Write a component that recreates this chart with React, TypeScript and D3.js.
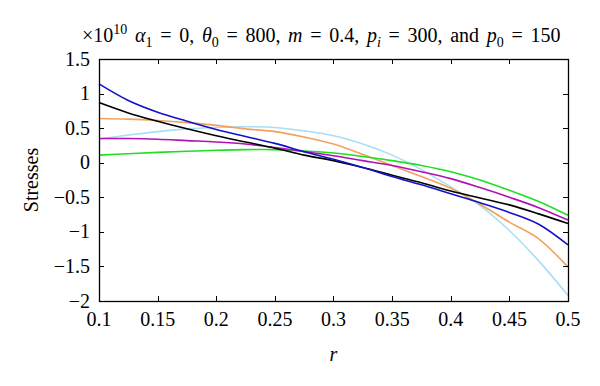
import React, { useRef, useEffect } from "react";
import * as d3 from "d3";

// radius values sampled along the x axis
const radius = [0.1, 0.125, 0.15, 0.175, 0.2, 0.225, 0.25, 0.275, 0.3, 0.325, 0.35, 0.375, 0.4, 0.425, 0.45, 0.475, 0.5];

// stresses (x 10^10)
const blueStress = [1.14, 0.9, 0.73, 0.6, 0.48, 0.38, 0.28, 0.16, 0.05, -0.07, -0.2, -0.32, -0.45, -0.58, -0.72, -0.89, -1.19];
const blackStress = [0.87, 0.72, 0.6, 0.49, 0.39, 0.3, 0.21, 0.11, 0.03, -0.07, -0.18, -0.29, -0.41, -0.51, -0.61, -0.74, -0.88];
const orangeStress = [0.64, 0.63, 0.61, 0.58, 0.54, 0.49, 0.45, 0.37, 0.27, 0.12, -0.04, -0.2, -0.37, -0.6, -0.86, -1.1, -1.51];
const cyanStress = [0.34, 0.4, 0.45, 0.49, 0.51, 0.52, 0.51, 0.46, 0.39, 0.27, 0.11, -0.1, -0.35, -0.62, -0.98, -1.42, -1.92];
const magentaStress = [0.35, 0.35, 0.34, 0.32, 0.3, 0.27, 0.22, 0.16, 0.1, 0.03, -0.04, -0.13, -0.23, -0.36, -0.5, -0.65, -0.83];
const greenStress = [0.11, 0.13, 0.15, 0.165, 0.18, 0.19, 0.19, 0.17, 0.14, 0.09, 0.03, -0.04, -0.13, -0.25, -0.4, -0.56, -0.76];

const xTicks = [0.1, 0.15, 0.2, 0.25, 0.3, 0.35, 0.4, 0.45, 0.5];
const yTicks = [1.5, 1, 0.5, 0, -0.5, -1, -1.5, -2];

const series = [
  { name: "cyan", values: cyanStress, color: "#a6e0f2" },
  { name: "orange", values: orangeStress, color: "#f2a25e" },
  { name: "green", values: greenStress, color: "#1ee01e" },
  { name: "magenta", values: magentaStress, color: "#b012b4" },
  { name: "black", values: blackStress, color: "#000000" },
  { name: "blue", values: blueStress, color: "#1212c8" },
];

const width = 600;
const height = 386;
const margin = { top: 59, right: 32, bottom: 85, left: 99 };
const fontFamily = "'Liberation Serif', 'Times New Roman', serif";

const fmt = (v: number) => (v < 0 ? "\u2212" + String(-v) : String(v));

const App = () => {
  const ref = useRef<SVGSVGElement | null>(null);

  useEffect(() => {
    const svg = d3.select(ref.current);
    svg.selectAll("*").remove();

    const innerW = width - margin.left - margin.right;
    const innerH = height - margin.top - margin.bottom;

    const x = d3.scaleLinear().domain([0.1, 0.5]).range([0, innerW]);
    const y = d3.scaleLinear().domain([-2, 1.5]).range([innerH, 0]);

    const g = svg
      .append("g")
      .attr("transform", "translate(" + margin.left + "," + margin.top + ")");

    const line = d3
      .line<number>()
      .x((d, i) => x(radius[i]))
      .y((d) => y(d))
      .curve(d3.curveCatmullRom.alpha(0.5));

    series.forEach((s) => {
      g.append("path")
        .datum(s.values)
        .attr("d", line)
        .style("fill", "none")
        .style("stroke", s.color)
        .style("stroke-width", "1.6px");
    });

    // box with inward ticks on all sides
    const tickLen = 5;
    xTicks.forEach((t) => {
      const px = Math.round(x(t)) + 0.5;
      g.append("line").attr("x1", px).attr("x2", px).attr("y1", innerH).attr("y2", innerH - tickLen).style("stroke", "black");
      g.append("line").attr("x1", px).attr("x2", px).attr("y1", 0).attr("y2", tickLen).style("stroke", "black");
      g.append("text")
        .attr("x", x(t))
        .attr("y", innerH + 25)
        .style("text-anchor", "middle")
        .style("font-family", fontFamily)
        .style("font-size", "20px")
        .text(String(t));
    });
    yTicks.forEach((t) => {
      const py = Math.round(y(t)) + 0.5;
      g.append("line").attr("x1", 0).attr("x2", tickLen).attr("y1", py).attr("y2", py).style("stroke", "black");
      g.append("line").attr("x1", innerW).attr("x2", innerW - tickLen).attr("y1", py).attr("y2", py).style("stroke", "black");
      g.append("text")
        .attr("x", -9)
        .attr("y", y(t))
        .attr("dy", "0.33em")
        .style("text-anchor", "end")
        .style("font-family", fontFamily)
        .style("font-size", "20px")
        .text(fmt(t));
    });

    g.append("rect")
      .attr("x", 0.5)
      .attr("y", 0.5)
      .attr("width", innerW)
      .attr("height", innerH)
      .style("fill", "none")
      .style("stroke", "black")
      .style("stroke-width", "1.3px");

    // axis labels
    g.append("text")
      .attr("x", innerW / 2)
      .attr("y", innerH + 60)
      .style("text-anchor", "middle")
      .style("font-family", fontFamily)
      .style("font-style", "italic")
      .style("font-size", "20px")
      .text("r");

    g.append("text")
      .attr("transform", "translate(-61," + (y(-0.25)) + ") rotate(-90)")
      .style("text-anchor", "middle")
      .style("font-family", fontFamily)
      .style("font-size", "20px")
      .text("Stresses");

    // title with the exponent label
    const title = svg
      .append("text")
      .attr("x", 82)
      .attr("y", 42)
      .style("font-family", fontFamily)
      .style("font-size", "20px")
      .style("word-spacing", "2.7px");
    const parts: [string, string][] = [
      ["n", "\u00d710"],
      ["sup", "10"],
      ["n", " "],
      ["i", "\u03b1"],
      ["sub", "1"],
      ["n", " = 0, "],
      ["i", "\u03b8"],
      ["sub", "0"],
      ["n", " = 800, "],
      ["i", "m"],
      ["n", " = 0.4, "],
      ["i", "p"],
      ["subi", "i"],
      ["n", " = 300, and "],
      ["i", "p"],
      ["sub", "0"],
      ["n", " = 150"],
    ];
    let shift = 0;
    parts.forEach(([kind, txt]) => {
      const ts = title.append("tspan").text(txt);
      let target = 0;
      if (kind === "sup") target = -8;
      if (kind === "sub" || kind === "subi") target = 5;
      ts.attr("dy", target - shift);
      shift = target;
      if (kind === "sup" || kind === "sub" || kind === "subi") ts.style("font-size", "14px");
      if (kind === "i" || kind === "subi") ts.style("font-style", "italic");
    });
  }, []);

  return (
    <svg
      ref={ref}
      width={width}
      height={height}
      style={{ display: "block", position: "absolute", left: 0, top: 0, background: "white" }}
    />
  );
};

export default App;
